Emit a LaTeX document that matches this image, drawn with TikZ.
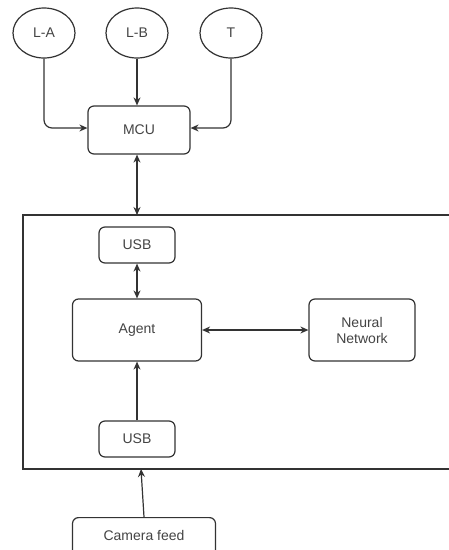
\documentclass[tikz,border=0pt]{standalone}
\usepackage{fontspec}
\setmainfont{Liberation Sans}
\usetikzlibrary{arrows.meta,shapes.geometric}
\definecolor{ln}{HTML}{333333}
\definecolor{tx}{HTML}{444444}
\begin{document}
\begin{tikzpicture}[x=1pt,y=-1pt,
  every node/.style={text=tx,font=\fontsize{14}{16}\selectfont},
  blk/.style={draw=ln,line width=1.2pt,rounded corners=6pt,inner sep=0pt},
  oval/.style={draw=ln,line width=1.2pt,ellipse,inner sep=0pt,minimum width=62pt,minimum height=50pt},
  arr/.style={draw=ln,line width=1.2pt,-{Stealth[length=8pt,width=7pt]}},
  darr/.style={draw=ln,line width=1.2pt,{Stealth[length=8pt,width=7pt]}-{Stealth[length=8pt,width=7pt]}}]
\useasboundingbox (0,0) rectangle (449,550);
\clip (0,0) rectangle (449,550);
\fill[white] (0,0) rectangle (449,550);
% sensors
\node[oval] (la) at (44,33) {L-A};
\node[oval] (lb) at (137,33) {L-B};
\node[oval] (t) at (231,33) {T};
% MCU
\node[blk,minimum width=102pt,minimum height=48pt] (mcu) at (139,130) {MCU};
% frame
\draw[ln,line width=1.2pt] (470,215) -- (23,215) -- (23,469) -- (470,469);
\coordinate (ftop) at (137,215);
\coordinate (fbot) at (141,469);
% inner blocks
\node[blk,minimum width=76pt,minimum height=36pt] (usb1) at (137,245) {USB};
\node[blk,minimum width=129pt,minimum height=62pt] (agent) at (137,330) {Agent};
\node[blk,minimum width=106pt,minimum height=62pt,align=center] (nn) at (362,330) {Neural\\Network};
\node[blk,minimum width=76pt,minimum height=36pt] (usb2) at (137,439) {USB};
% camera
\node[blk,minimum width=143pt,minimum height=50pt,anchor=north] (cam) at (144,517) {};
\node at (144,535) {Camera feed};
% connectors
\draw[arr,rounded corners=8pt] (la.south) -- (44,128) -- (mcu.west |- 0,128);
\draw[arr] (lb.south) -- (mcu.north -| lb.south);
\draw[arr,rounded corners=8pt] (t.south) -- (231,128) -- (mcu.east |- 0,128);
\draw[darr] (mcu.south -| ftop) -- (ftop);
\draw[darr] (usb1.south) -- (agent.north);
\draw[darr] (agent.east) -- (nn.west);
\draw[arr] (usb2.north) -- (agent.south);
\draw[arr] (cam.north) -- (fbot);
\end{tikzpicture}
\end{document}
